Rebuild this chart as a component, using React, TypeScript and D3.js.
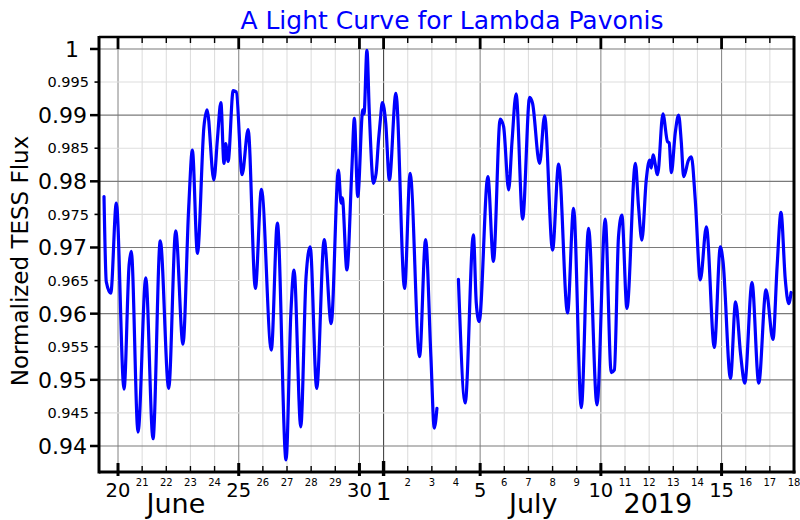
import React from 'react';
import * as d3 from 'd3';

// Light-curve samples (day counted from 1 June 2019; 31 = 1 July) and normalized flux
const seg1Days = [19.42, 19.515, 19.70, 19.93, 20.25, 20.46, 20.55, 20.83, 21.15, 21.45, 21.75, 22.10, 22.39, 22.69, 22.93, 23.08, 23.29, 23.56, 23.69, 23.97, 24.12, 24.26, 24.39, 24.46, 24.56, 24.77, 24.90, 25.14, 25.39, 25.69, 25.94, 26.35, 26.60, 26.96, 27.16, 27.29, 27.57, 27.79, 27.96, 28.23, 28.54, 28.83, 29.13, 29.24, 29.29, 29.48, 29.69, 29.79, 29.93, 30.14, 30.19, 30.31, 30.41, 30.58, 30.69, 30.79, 30.86, 30.95, 31.09, 31.24, 31.51, 31.87, 32.10, 32.49, 32.74, 32.96, 33.10, 33.21];
const seg1Flux = [0.9777, 0.9648, 0.9631, 0.9767, 0.9486, 0.9674, 0.9694, 0.9421, 0.9654, 0.9411, 0.9710, 0.9487, 0.9725, 0.9554, 0.9762, 0.9847, 0.9691, 0.9883, 0.9908, 0.9802, 0.9865, 0.9919, 0.9827, 0.9857, 0.9830, 0.9937, 0.9935, 0.9810, 0.9878, 0.9638, 0.9788, 0.9545, 0.9737, 0.9379, 0.9601, 0.9666, 0.9429, 0.9656, 0.9701, 0.9487, 0.9712, 0.9585, 0.9817, 0.9767, 0.9775, 0.9666, 0.9822, 0.9895, 0.9777, 0.9908, 0.9902, 0.9998, 0.9903, 0.9797, 0.9812, 0.9862, 0.9890, 0.9919, 0.9888, 0.9802, 0.9933, 0.9638, 0.9812, 0.9535, 0.9712, 0.9535, 0.9427, 0.9457];
const seg2Days = [34.10, 34.38, 34.72, 34.84, 34.96, 35.32, 35.55, 35.83, 35.97, 36.18, 36.32, 36.49, 36.76, 37.05, 37.17, 37.46, 37.67, 38.00, 38.25, 38.62, 38.87, 39.19, 39.49, 39.84, 40.18, 40.43, 40.56, 40.73, 40.87, 41.08, 41.43, 41.56, 41.70, 41.88, 42.02, 42.09, 42.16, 42.35, 42.57, 42.76, 42.83, 42.92, 43.08, 43.22, 43.33, 43.43, 43.63, 43.75, 43.91, 44.12, 44.37, 44.70, 44.95, 45.06, 45.37, 45.58, 45.79, 45.96, 46.26, 46.54, 46.84, 47.13, 47.30, 47.46, 47.64, 47.78, 47.88];
const seg2Flux = [0.9652, 0.9465, 0.9719, 0.9616, 0.9588, 0.9807, 0.9679, 0.9894, 0.9883, 0.9787, 0.9860, 0.9932, 0.9743, 0.9927, 0.9918, 0.9827, 0.9899, 0.9696, 0.9826, 0.9601, 0.9759, 0.9458, 0.9729, 0.9462, 0.9743, 0.9511, 0.9515, 0.9716, 0.9749, 0.9608, 0.9827, 0.9762, 0.9711, 0.9802, 0.9832, 0.9820, 0.9840, 0.9810, 0.9902, 0.9860, 0.9858, 0.9813, 0.9873, 0.9900, 0.9860, 0.9807, 0.9832, 0.9837, 0.9772, 0.9651, 0.9731, 0.9549, 0.9701, 0.9679, 0.9502, 0.9618, 0.9538, 0.9495, 0.9647, 0.9495, 0.9636, 0.9561, 0.9671, 0.9753, 0.9651, 0.9615, 0.9632];

const yMajorTicks = [0.94, 0.95, 0.96, 0.97, 0.98, 0.99, 1];
const yMajorLabels = ['0.94', '0.95', '0.96', '0.97', '0.98', '0.99', '1'];
const yMinorTicks = [0.945, 0.955, 0.965, 0.975, 0.985, 0.995];
const yMinorLabels = ['0.945', '0.955', '0.965', '0.975', '0.985', '0.995'];
const majorDays = [20, 25, 30, 35, 40, 45]; // 20, 25, 30 June; 5, 10, 15 July
const monthStartDay = 31; // 1 July
const firstTickDay = 20;
const lastTickDay = 48;
const monthLabels = [{ text: 'June', day: 22.4 }, { text: 'July', day: 37.2 }, { text: '2019', day: 42.36 }];
const title = 'A Light Curve for Lambda Pavonis';
const yTitle = 'Normalized TESS Flux';

const toDate = (d: number) => new Date(Date.UTC(2019, 5, 1) + (d - 1) * 864e5);

export default function App() {
  const W = 800, H = 520;
  const left = 99, right = 794, top = 37, bottom = 472;
  const x = d3.scaleUtc().domain([toDate(19.2126), toDate(48)]).range([left, right]);
  const y = d3.scaleLinear().domain([0.93607, 1.00181]).range([bottom, top]);
  const allDays = d3.range(firstTickDay, lastTickDay + 1);
  const line = d3.line<[number, number]>()
    .x(d => x(toDate(d[0])))
    .y(d => y(d[1]))
    .curve(d3.curveMonotoneX);
  const seg1 = seg1Days.map((d, i) => [d, seg1Flux[i]] as [number, number]);
  const seg2 = seg2Days.map((d, i) => [d, seg2Flux[i]] as [number, number]);
  const font = 'DejaVu Sans, sans-serif';
  const dayLabel = (d: number) => String(toDate(d).getUTCDate());

  return (
    <div style={{ position: 'absolute', left: 0, top: 0 }}>
      <svg width={W} height={H} style={{ display: 'block', background: '#fff' }} fontFamily={font}>
        {/* grid */}
        {allDays.map(d => (
          <line key={'vg' + d} x1={x(toDate(d))} x2={x(toDate(d))} y1={top} y2={bottom}
            stroke={d === monthStartDay ? '#444' : majorDays.includes(d) ? '#8c8c8c' : '#dedede'} strokeWidth={1.1} />
        ))}
        {yMinorTicks.map(v => (
          <line key={'hm' + v} x1={left} x2={right} y1={y(v)} y2={y(v)} stroke="#dedede" strokeWidth={1.1} />
        ))}
        {yMajorTicks.map(v => (
          <line key={'hM' + v} x1={left} x2={right} y1={y(v)} y2={y(v)} stroke="#7a7a7a" strokeWidth={1.2} />
        ))}
        {/* data */}
        <path d={line(seg1) || ''} fill="none" stroke="#0000ff" strokeWidth={3.2} strokeLinejoin="round" strokeLinecap="round" />
        <path d={line(seg2) || ''} fill="none" stroke="#0000ff" strokeWidth={3.2} strokeLinejoin="round" strokeLinecap="round" />
        {/* frame */}
        <line x1={left} x2={right} y1={top} y2={top} stroke="#000" strokeWidth={2.5} />
        <line x1={left} x2={right + 1.5} y1={bottom} y2={bottom} stroke="#000" strokeWidth={3} />
        <line x1={left} x2={left} y1={top - 1} y2={bottom + 1.5} stroke="#000" strokeWidth={3} />
        <line x1={right} x2={right} y1={top - 1} y2={bottom + 1.5} stroke="#000" strokeWidth={3} />
        {/* x ticks */}
        {allDays.map(d => {
          const xx = x(toDate(d));
          const isMonth = d === monthStartDay;
          const isMajor = majorDays.includes(d) || isMonth;
          return (
            <g key={'xt' + d}>
              <line x1={xx} x2={xx} y1={top} y2={top + (isMajor ? 12 : 6)} stroke="#000" strokeWidth={isMajor ? 2.8 : 1.4} />
              <line x1={xx} x2={xx} y1={bottom - (isMonth ? 11 : isMajor ? 9 : 6)} y2={bottom + (isMajor ? 4 : 1)} stroke="#000" strokeWidth={isMonth ? 3.4 : isMajor ? 3 : 1.4} />
              {isMonth ? (
                <text x={xx} y={500} fontSize={24} textAnchor="middle">{dayLabel(d)}</text>
              ) : isMajor ? (
                <text x={xx} y={497} fontSize={19.5} textAnchor="middle">{dayLabel(d)}</text>
              ) : (
                <text x={xx} y={486} fontSize={10} textAnchor="middle">{dayLabel(d)}</text>
              )}
            </g>
          );
        })}
        {monthLabels.map(m => (
          <text key={m.text} x={x(toDate(m.day))} y={513} fontSize={27} textAnchor="middle">{m.text}</text>
        ))}
        {/* y ticks */}
        {yMajorTicks.map((v, i) => (
          <g key={'yt' + v}>
            <line x1={left - 9} x2={left} y1={y(v)} y2={y(v)} stroke="#000" strokeWidth={2.5} />
            <text x={v === 1 ? 79 : 87} y={y(v)} dy="0.36em" fontSize={22} textAnchor="end">{yMajorLabels[i]}</text>
          </g>
        ))}
        {yMinorTicks.map((v, i) => (
          <g key={'ym' + v}>
            <line x1={left - 4.5} x2={left} y1={y(v)} y2={y(v)} stroke="#000" strokeWidth={1.6} />
            <text x={89} y={y(v)} dy="0.36em" fontSize={14.5} textAnchor="end">{yMinorLabels[i]}</text>
          </g>
        ))}
        {/* titles */}
        <text x={452} y={28.5} fontSize={25} textAnchor="middle" fill="#0000ff">{title}</text>
        <text transform="translate(28,261) rotate(-90)" fontSize={23} textAnchor="middle">{yTitle}</text>
      </svg>
    </div>
  );
}
